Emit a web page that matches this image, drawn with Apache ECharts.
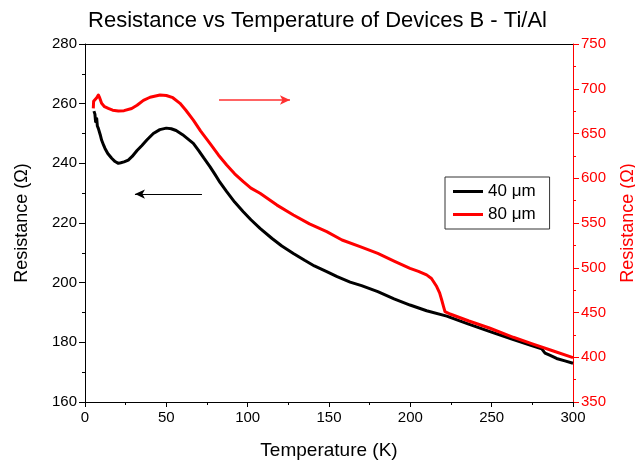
<!DOCTYPE html>
<html><head><meta charset="utf-8">
<script src="https://cdn.jsdelivr.net/npm/echarts@6/dist/echarts.min.js"></script>
<style>html,body{margin:0;padding:0;background:#fff}#c{width:635px;height:461px}</style>
</head><body><div id="c"></div>
<script>
const xTicks = [0, 50, 100, 150, 200, 250, 300];
const leftTicks = [160, 180, 200, 220, 240, 260, 280];
const rightTicks = [350, 400, 450, 500, 550, 600, 650, 700, 750];
const seriesNames = ['40 \u03bcm', '80 \u03bcm'];

const tempBlack = [5.5,6.1,6.5,7.2,7.6,8.2,8.8,9.4,10.2,11,11.5,12.3,13.2,14,15,16.4,17.5,18.5,20.5,22,24,26.6,29,32,35,38,42,46,50,53,56,60,63,66.6,70,73,76.8,80,83,87.1,92,97.3,102,107.6,115,121,128.1,135,141,148.6,155,163,170,180,190,199.8,210,222.4,235,249,262,273.6,280.8,282.8,286,289.9,295,300];
const resBlack = [257.5,256.5,254,255,252.5,251.7,252.3,249.5,247.8,248.2,246,245,245.2,243.3,243.6,241.7,241.6,240.6,240.0,240.2,240.5,241.1,242.3,244.3,246,247.8,250,251.3,251.8,251.6,251,249.6,248.3,246.7,244.2,241.8,238.9,236.2,233.6,230.5,227,223.8,221.1,218.2,214.8,212.3,209.8,207.5,205.6,203.7,202,200.2,199,197,194.6,192.5,190.6,188.8,186.3,183.6,181.2,179.1,177.8,176.4,175.6,174.6,173.8,173];

const tempRed = [5.1,5.3,6.5,7.2,8.2,9,10.2,12,14.3,17,20.5,24,28.7,32,35.9,40,46.1,50,54,58.4,62,66.6,71,76.8,82,87.1,92,97.3,102,107.6,118,128.1,138,148.6,158,169.1,180,190,199.8,205,210,213,216.2,218,219.3,220.5,221.3,224.4,236,249,263.3,275,287,300];
const resRed = [678,686,684,690,693,690,683.7,680,678,676,675.1,675.5,678,681.5,687,690.5,693,692.5,690,683.7,676,665,653,639,626,614.8,605,596.2,589,583.2,570,559,549,540.3,531,523.5,516,507.5,499.4,496,492,488,479,472,464,456,451,448.3,440.5,432.4,422.3,415,407.5,399.5];

// annotation arrows (data coordinates)
const arrowBlack = [[71.9, 229.7], [30.7, 229.7]];
const arrowRed = [[82.4, 687.4], [126, 687.4]];

const FONT = '"Liberation Sans", Arial, sans-serif';
const pair = (xs, ys) => xs.map((x, i) => [x, ys[i]]);

const chart = echarts.init(document.getElementById('c'), null, {renderer: 'canvas'});
chart.setOption({
  animation: false,
  backgroundColor: '#fff',
  title: {
    text: 'Resistance vs Temperature of Devices B - Ti/Al',
    left: 'center', top: 5,
    textStyle: {fontFamily: FONT, fontSize: 22, fontWeight: 'normal', color: '#000'}
  },
  legend: {
    orient: 'vertical', left: 445, top: 177,
    data: seriesNames,
    icon: 'rect', itemWidth: 30, itemHeight: 3, itemGap: 6,
    borderColor: '#333', borderWidth: 1, padding: [6, 14, 6, 8],
    textStyle: {fontFamily: FONT, fontSize: 17, color: '#000'}
  },
  grid: {left: 85, right: 62, top: 44, bottom: 59, outerBoundsMode: 'none', containLabel: false},
  xAxis: [{
    type: 'value', min: xTicks[0], max: xTicks[xTicks.length - 1], interval: 50,
    name: 'Temperature (K)', nameLocation: 'middle', nameGap: 39,
    nameTextStyle: {fontFamily: FONT, fontSize: 19, color: '#000'},
    axisLine: {show: true, onZero: false, lineStyle: {color: '#000', width: 1}},
    axisTick: {show: true, inside: false, length: 5, lineStyle: {color: '#000'}},
    minorTick: {show: true, splitNumber: 2, length: 3, lineStyle: {color: '#000'}},
    axisLabel: {fontFamily: FONT, fontSize: 15, color: '#000', margin: 8},
    splitLine: {show: false}
  }, {
    type: 'value', position: 'top', min: 0, max: 300,
    axisLine: {show: true, onZero: false, lineStyle: {color: '#000', width: 1}},
    axisTick: {show: false}, axisLabel: {show: false}, splitLine: {show: false}
  }],
  yAxis: [{
    type: 'value', min: leftTicks[0], max: leftTicks[leftTicks.length - 1], interval: 20,
    name: 'Resistance (\u03a9)', nameLocation: 'middle', nameGap: 54,
    nameTextStyle: {fontFamily: FONT, fontSize: 18, color: '#000'},
    axisLine: {show: true, onZero: false, lineStyle: {color: '#000', width: 1}},
    axisTick: {show: true, inside: false, length: 6, lineStyle: {color: '#000'}},
    minorTick: {show: true, splitNumber: 2, length: 3, lineStyle: {color: '#000'}},
    axisLabel: {fontFamily: FONT, fontSize: 15, color: '#000', margin: 8},
    splitLine: {show: false}
  }, {
    type: 'value', position: 'right', min: rightTicks[0], max: rightTicks[rightTicks.length - 1], interval: 50,
    name: 'Resistance (\u03a9)', nameLocation: 'middle', nameGap: 46, nameRotate: 90,
    nameTextStyle: {fontFamily: FONT, fontSize: 18, color: '#ff0000'},
    axisLine: {show: true, onZero: false, lineStyle: {color: '#ff0000', width: 1}},
    axisTick: {show: true, inside: false, length: 6, lineStyle: {color: '#ff0000'}},
    minorTick: {show: true, splitNumber: 2, length: 3, lineStyle: {color: '#ff0000'}},
    axisLabel: {fontFamily: FONT, fontSize: 15, color: '#ff0000', margin: 8},
    splitLine: {show: false}
  }],
  series: [{
    name: seriesNames[0], type: 'line', xAxisIndex: 0, yAxisIndex: 0,
    data: pair(tempBlack, resBlack), showSymbol: false, symbol: 'none',
    smooth: false,
    lineStyle: {color: '#000', width: 3, join: 'round'}, itemStyle: {color: '#000'},
    markLine: {
      silent: true, symbol: ['none', 'arrow'], symbolSize: [7, 10],
      label: {show: false},
      lineStyle: {color: '#000', width: 1, type: 'solid'},
      data: [[{coord: arrowBlack[0]}, {coord: arrowBlack[1]}]]
    }
  }, {
    name: seriesNames[1], type: 'line', xAxisIndex: 0, yAxisIndex: 1,
    data: pair(tempRed, resRed), showSymbol: false, symbol: 'none',
    smooth: false,
    lineStyle: {color: '#ff0000', width: 3, join: 'round'}, itemStyle: {color: '#ff0000'},
    markLine: {
      silent: true, symbol: ['none', 'arrow'], symbolSize: [7, 10],
      label: {show: false},
      lineStyle: {color: '#ff3030', width: 1.5, type: 'solid'},
      data: [[{coord: arrowRed[0]}, {coord: arrowRed[1]}]]
    }
  }]
});
</script>
</body></html>
